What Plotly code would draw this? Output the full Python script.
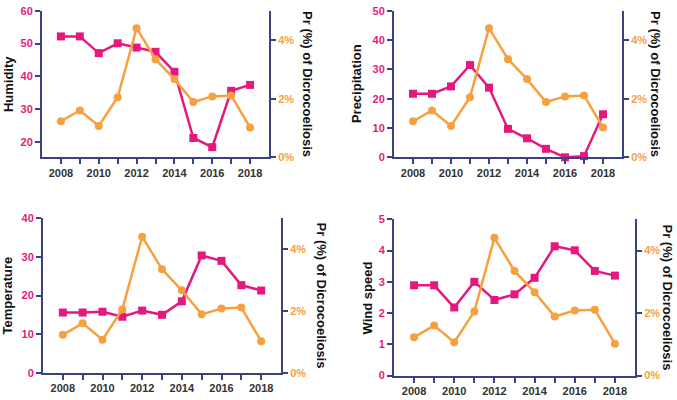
import plotly.graph_objects as go

years = [2008, 2009, 2010, 2011, 2012, 2013, 2014, 2015, 2016, 2017, 2018]
year_ticks = [2008, 2009, 2010, 2011, 2012, 2013, 2014, 2015, 2016, 2017, 2018]
year_labels = ["2008", "", "2010", "", "2012", "", "2014", "", "2016", "", "2018"]

prevalence = [1.23, 1.60, 1.07, 2.05, 4.41, 3.35, 2.67, 1.89, 2.08, 2.11, 1.02]

humidity = [52.2, 52.2, 47.1, 50.1, 48.8, 47.5, 41.4, 21.2, 18.4, 35.6, 37.4]
precipitation = [21.7, 21.7, 24.2, 31.5, 23.8, 9.7, 6.5, 2.9, 0.0, 0.4, 14.7]
temperature = [15.6, 15.6, 15.8, 14.5, 16.1, 15.0, 18.5, 30.4, 29.0, 22.7, 21.3]
wind_speed = [2.89, 2.89, 2.18, 3.00, 2.42, 2.60, 3.13, 4.14, 4.01, 3.35, 3.20]

panel_names = ["Humidity", "Precipitation", "Temperature", "Wind speed"]
panel_values = [humidity, precipitation, temperature, wind_speed]
left_ranges = [[15.3, 60], [0, 50], [0, 40], [0, 5]]
left_ticks = [[20, 30, 40, 50, 60], [0, 10, 20, 30, 40, 50], [0, 10, 20, 30, 40], [0, 1, 2, 3, 4, 5]]
right_ticks = [0, 2, 4]
right_labels = ["0%", "2%", "4%"]
right_title = "Pr (%) of Dicrocoeliosis"

W, H = 677, 400
MAG = "#E5197D"
ORA = "#F7A03F"
NAVY = "#3C4181"
FONT = "Liberation Sans, Arial, sans-serif"

# plot boxes in window pixels: (left, right, top, bottom)
boxes = [(42, 269, 5, 156), (394, 622, 5, 156), (43, 281, 219, 378), (394, 635, 220, 381)]
left_title_x = [8, 356, 8, 367]
right_title_x = [308, 656, 321, 668]


def px(v):
    return v / W


def py(v):
    return 1 - v / H


fig = go.Figure()
layout = dict(
    width=W, height=H, margin=dict(l=0, r=0, t=0, b=0),
    paper_bgcolor="white", plot_bgcolor="white", showlegend=False,
    font=dict(family=FONT), annotations=[],
)

for i in range(4):
    xa = f"x{i+1}" if i else "x"
    yl = 2 * i + 1
    yr = 2 * i + 2
    yl_name = f"y{yl}" if yl > 1 else "y"
    yr_name = f"y{yr}"
    l, r, t, b = boxes[i]
    xdom = [px(l), px(r)]
    ydom = [py(b), py(t)]

    fig.add_trace(go.Scatter(
        x=years, y=panel_values[i], xaxis=xa, yaxis=yl_name, mode="lines+markers",
        line=dict(color=MAG, width=2.5), marker=dict(symbol="square", size=8, color=MAG),
        cliponaxis=False))
    fig.add_trace(go.Scatter(
        x=years, y=prevalence, xaxis=xa, yaxis=yr_name, mode="lines+markers",
        line=dict(color=ORA, width=2.5), marker=dict(symbol="circle", size=8, color=ORA),
        cliponaxis=False))

    xkey = f"xaxis{i+1}" if i else "xaxis"
    ylkey = f"yaxis{yl}" if yl > 1 else "yaxis"
    yrkey = f"yaxis{yr}"
    layout[xkey] = dict(
        domain=xdom, anchor=yl_name, range=[2007.0, 2019.0],
        tickvals=year_ticks, ticktext=year_labels, ticks="outside", ticklen=5,
        tickwidth=2, tickcolor=NAVY, showline=True, linecolor=NAVY, linewidth=2,
        showgrid=False, zeroline=False, ticklabelstandoff=-1,
        tickfont=dict(family=FONT, size=11, color="#333333", weight="bold"))
    layout[ylkey] = dict(
        domain=ydom, anchor=xa, range=left_ranges[i], tickvals=left_ticks[i],
        ticks="outside", ticklen=5, tickwidth=2, tickcolor=NAVY,
        showline=True, linecolor=NAVY, linewidth=2, showgrid=False, zeroline=False,
        tickfont=dict(family=FONT, size=11, color=MAG, weight="bold"))
    layout[yrkey] = dict(
        overlaying=yl_name, anchor=xa, side="right", range=[0, 5],
        tickvals=right_ticks, ticktext=right_labels,
        ticks="outside", ticklen=5, tickwidth=2, tickcolor=NAVY,
        showline=True, linecolor=NAVY, linewidth=2, showgrid=False, zeroline=False,
        tickfont=dict(family=FONT, size=11, color=ORA, weight="bold"))

    cy = py((t + b) / 2)
    layout["annotations"].append(dict(
        text=f"<b>{panel_names[i]}</b>", xref="paper", yref="paper",
        x=px(left_title_x[i]), y=cy, textangle=-90, showarrow=False,
        borderpad=0, borderwidth=0,
        xanchor="center", yanchor="middle", font=dict(family=FONT, size=13, color="#111111")))
    layout["annotations"].append(dict(
        text=f"<b>{right_title}</b>", xref="paper", yref="paper",
        x=px(right_title_x[i]), y=cy, textangle=90, showarrow=False,
        borderpad=0, borderwidth=0,
        xanchor="center", yanchor="middle", font=dict(family=FONT, size=13, color="#111111")))

fig.update_layout(**layout)
fig.write_html(
    "out.html",
    config={"displayModeBar": False},
    post_script="document.body.style.margin='0';document.body.style.overflow='hidden';",
)
